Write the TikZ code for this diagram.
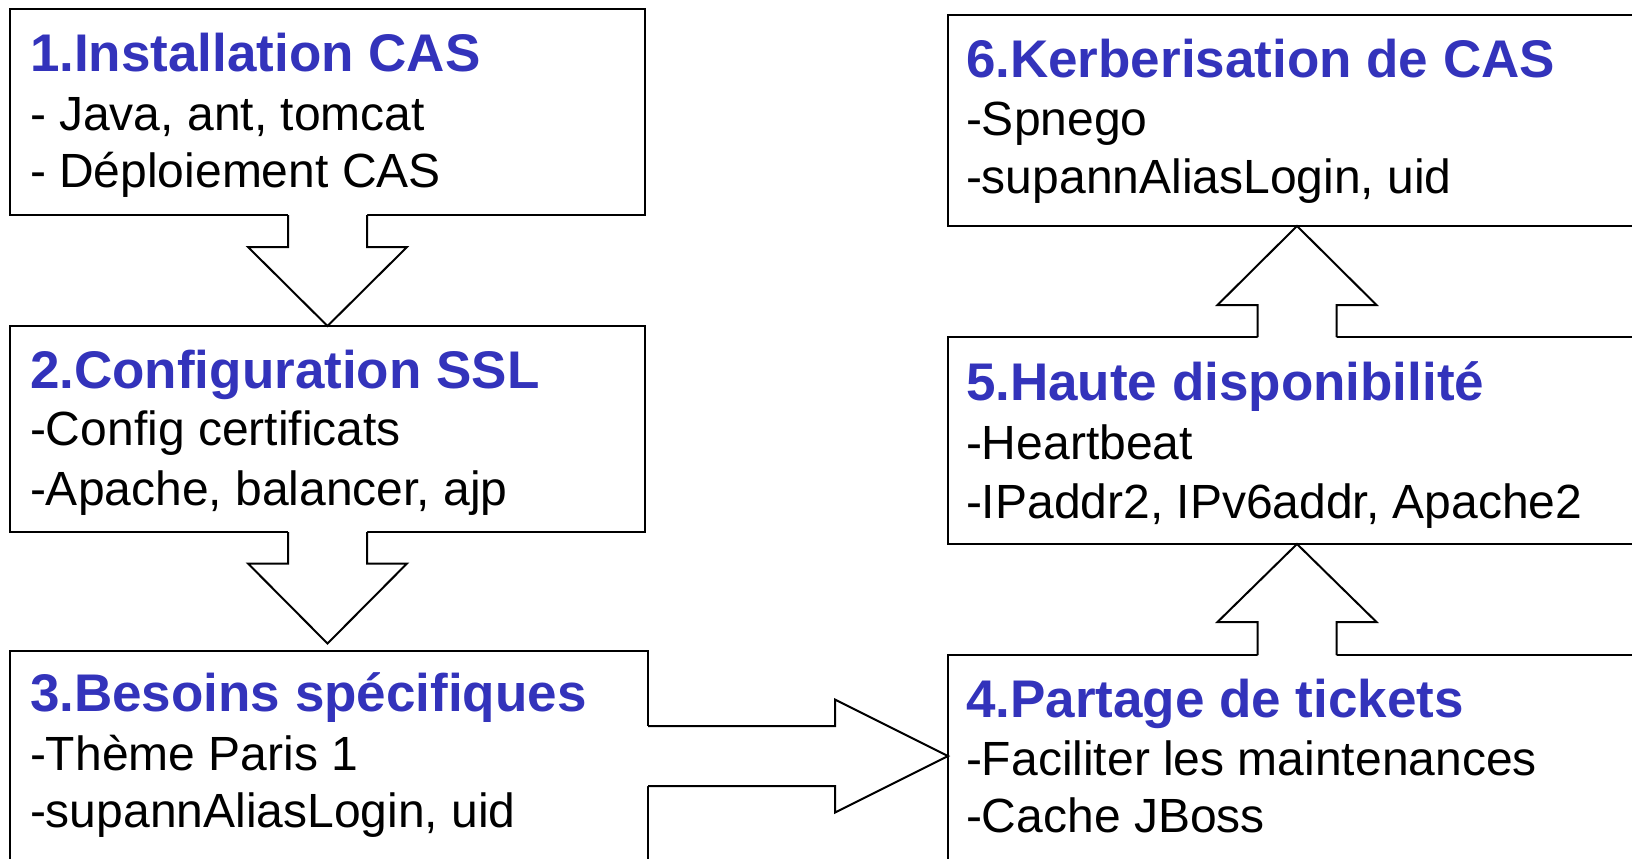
\documentclass[tikz,border=0pt]{standalone}
\usepackage{fontspec}
\setmainfont{Liberation Sans}
\usetikzlibrary{calc}
\definecolor{titleblue}{RGB}{51,51,187}
\tikzset{
  box/.style={draw=black, line width=1pt, rectangle, anchor=north west, inner sep=0pt, outer sep=0pt},
  arrowline/.style={draw=black, line width=1pt, line join=miter},
  ttl/.style={anchor=base west, inner sep=0pt, outer sep=0pt, text=titleblue, font=\bfseries\fontsize{26.5}{30}\selectfont},
  body/.style={anchor=base west, inner sep=0pt, outer sep=0pt, text=black, font=\fontsize{24}{28}\selectfont}
}
% block arrow: #1 start, #2 tip, #3 shaft half width, #4 head half width, #5 head length
\newcommand\blockarrow[5]{%
  \coordinate (ba-s) at ($(#1)!-1.5pt!(#2)$);
  \coordinate (ba-h) at ($(#2)!#5!(#1)$);
  \fill[white] ($(ba-s)!#3!90:(#2)$) -- ($(ba-h)!#3!90:(#2)$) -- ($(ba-h)!#4!90:(#2)$) -- (#2)
     -- ($(ba-h)!#4!-90:(#2)$) -- ($(ba-h)!#3!-90:(#2)$) -- ($(ba-s)!#3!-90:(#2)$) -- cycle;
  \draw[arrowline] ($(#1)!#3!90:(#2)$) -- ($(ba-h)!#3!90:(#2)$) -- ($(ba-h)!#4!90:(#2)$) -- (#2)
     -- ($(ba-h)!#4!-90:(#2)$) -- ($(ba-h)!#3!-90:(#2)$) -- ($(#1)!#3!-90:(#2)$);
}
\begin{document}
\begin{tikzpicture}[x=0.5pt, y=-0.5pt]
\useasboundingbox (0,0) rectangle (1632,858);
\clip (0,0) rectangle (1632,858);
\fill[white] (0,0) rectangle (1632,858);

% boxes
\node[box, minimum width=317.5pt, minimum height=103pt] (b1) at (10,9) {};
\node[box, minimum width=317.5pt, minimum height=103pt] (b2) at (10,326) {};
\node[box, minimum width=319pt, minimum height=105.5pt] (b3) at (10,650.5) {};
\node[box, minimum width=349pt, minimum height=105.5pt] (b6) at (948,15) {};
\node[box, minimum width=349pt, minimum height=103.5pt] (b5) at (948,337) {};
\node[box, minimum width=349pt, minimum height=105pt] (b4) at (948,655) {};

% arrows
\coordinate (t2) at ($(b3.north)+(0,-7)$);
\coordinate (t2b) at (b2.south |- t2);
\coordinate (t3) at (b4.west |- b3.east);
\blockarrow{b1.south}{b2.north}{19.75pt}{39.75pt}{39.5pt}
\blockarrow{b2.south}{t2b}{19.75pt}{39.75pt}{40pt}
\blockarrow{b3.east}{t3}{15pt}{28.25pt}{56.5pt}
\blockarrow{b4.north}{b5.south}{19.75pt}{39.75pt}{39pt}
\blockarrow{b5.north}{b6.south}{19.75pt}{39.75pt}{39.5pt}

% texts
\node[ttl] (t1a) at (30,71) {1.Installation CAS};
\node[body] (t1b) at (30,130) {- Java, ant, tomcat};
\node[body] (t1c) at (30,187) {- Déploiement CAS};

\node[ttl] (t2a) at (30,388) {2.Configuration SSL};
\node[body] (t2bb) at (30,445) {-Config certificats};
\node[body] (t2c) at (30,505) {-Apache, balancer, ajp};

\node[ttl] (t3a) at (30,711) {3.Besoins spécifiques};
\node[body] (t3b) at (30,770) {-Thème Paris 1};
\node[body] (t3c) at (30,827) {-supannAliasLogin, uid};

\node[ttl] (t6a) at (966,77) {6.Kerberisation de CAS};
\node[body] (t6b) at (966,135) {-Spnego};
\node[body] (t6c) at (966,193) {-supannAliasLogin, uid};

\node[ttl] (t5a) at (966,400) {5.Haute disponibilité};
\node[body] (t5b) at (966,459) {-Heartbeat};
\node[body] (t5c) at (966,518) {-IPaddr2, IPv6addr, Apache2};

\node[ttl] (t4a) at (966,717) {4.Partage de tickets};
\node[body] (t4b) at (966,775) {-Faciliter les maintenances};
\node[body] (t4c) at (966,832) {-Cache JBoss};
\end{tikzpicture}
\end{document}
